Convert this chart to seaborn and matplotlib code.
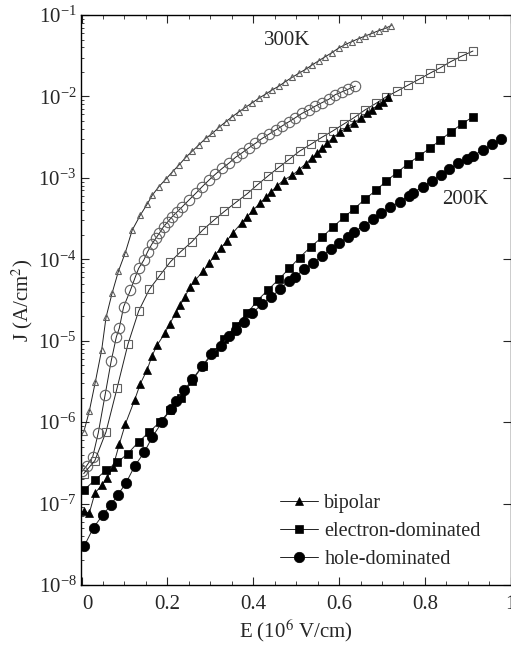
import matplotlib
matplotlib.use("Agg")
import matplotlib.pyplot as plt
import matplotlib.transforms as mtransforms
from matplotlib.ticker import MultipleLocator, LogLocator, NullFormatter
import seaborn as sns

sns.set_theme(style="ticks")
plt.rcParams.update({
    "font.family": ["Liberation Serif", "DejaVu Serif"],
    "mathtext.fontset": "stix",
    "font.size": 13,
    "axes.linewidth": 1.0,
    "xtick.direction": "in",
    "ytick.direction": "in",
    "xtick.top": True,
    "ytick.right": True,
})

# 300K bipolar (open triangles)
E_bip_300 = [0.005, 0.018, 0.032, 0.047, 0.057, 0.071, 0.086, 0.102, 0.118, 0.137,
             0.153, 0.165, 0.180, 0.196, 0.212, 0.227, 0.243, 0.258, 0.273, 0.289,
             0.305, 0.320, 0.336, 0.351, 0.367, 0.382, 0.398, 0.413, 0.429, 0.444,
             0.460, 0.475, 0.491, 0.506, 0.522, 0.537, 0.553, 0.568, 0.584, 0.599,
             0.615, 0.630, 0.646, 0.661, 0.677, 0.692, 0.708, 0.722]
J_bip_300 = [7.53e-7, 1.36e-6, 3.10e-6, 7.78e-6, 1.93e-5, 3.81e-5, 7.16e-5, 1.21e-4, 2.28e-4, 3.49e-4,
             4.77e-4, 6.15e-4, 7.78e-4, 9.59e-4, 1.19e-3, 1.44e-3, 1.79e-3, 2.13e-3, 2.53e-3, 3.05e-3,
             3.52e-3, 4.17e-3, 4.88e-3, 5.63e-3, 6.49e-3, 7.35e-3, 8.37e-3, 9.48e-3, 1.07e-2, 1.20e-2,
             1.34e-2, 1.52e-2, 1.72e-2, 1.92e-2, 2.15e-2, 2.43e-2, 2.75e-2, 3.08e-2, 3.46e-2, 3.93e-2,
             4.35e-2, 4.72e-2, 5.14e-2, 5.52e-2, 5.96e-2, 6.41e-2, 6.87e-2, 7.43e-2]

# 300K hole-dominated (open circles)
E_hole_300 = [0.002, 0.012, 0.026, 0.039, 0.055, 0.069, 0.081, 0.088, 0.098, 0.114,
              0.124, 0.133, 0.145, 0.154, 0.164, 0.173, 0.181, 0.191, 0.201, 0.211,
              0.222, 0.234, 0.250, 0.266, 0.281, 0.297, 0.312, 0.328, 0.343, 0.359,
              0.374, 0.390, 0.405, 0.421, 0.436, 0.452, 0.467, 0.483, 0.498, 0.514,
              0.529, 0.545, 0.560, 0.576, 0.591, 0.607, 0.622, 0.638]
J_hole_300 = [2.50e-7, 2.92e-7, 3.75e-7, 7.40e-7, 2.18e-6, 5.61e-6, 1.11e-5, 1.43e-5, 2.61e-5, 4.18e-5,
              5.82e-5, 7.73e-5, 9.77e-5, 1.24e-4, 1.54e-4, 1.81e-4, 2.08e-4, 2.51e-4, 2.89e-4, 3.33e-4,
              3.80e-4, 4.38e-4, 5.33e-4, 6.45e-4, 7.78e-4, 9.40e-4, 1.11e-3, 1.31e-3, 1.51e-3, 1.79e-3,
              2.03e-3, 2.34e-3, 2.65e-3, 3.05e-3, 3.42e-3, 3.86e-3, 4.33e-3, 4.88e-3, 5.47e-3, 6.20e-3,
              6.80e-3, 7.62e-3, 8.37e-3, 9.21e-3, 1.05e-2, 1.14e-2, 1.23e-2, 1.34e-2]

# electron-dominated, 300K (open squares) and 200K (filled squares) share the same fields
E_elec = [0.005, 0.031, 0.057, 0.083, 0.108, 0.133, 0.158, 0.183, 0.207, 0.231,
          0.257, 0.282, 0.308, 0.333, 0.359, 0.386, 0.409, 0.434, 0.460, 0.484,
          0.508, 0.534, 0.560, 0.585, 0.611, 0.636, 0.660, 0.686, 0.710, 0.735,
          0.760, 0.786, 0.811, 0.836, 0.860, 0.886, 0.912]
J_elec_300 = [2.33e-7, 3.37e-7, 7.60e-7, 2.65e-6, 9.02e-6, 2.31e-5, 4.27e-5, 6.40e-5, 9.31e-5, 1.24e-4,
              1.64e-4, 2.28e-4, 3.01e-4, 3.88e-4, 4.97e-4, 6.38e-4, 8.16e-4, 1.05e-3, 1.35e-3, 1.69e-3,
              2.13e-3, 2.58e-3, 3.15e-3, 3.76e-3, 4.58e-3, 5.53e-3, 6.80e-3, 8.22e-3, 9.91e-3, 1.16e-2,
              1.37e-2, 1.62e-2, 1.92e-2, 2.25e-2, 2.67e-2, 3.13e-2, 3.61e-2]
J_elec_200 = [1.46e-7, 1.94e-7, 2.57e-7, 3.20e-7, 4.12e-7, 5.73e-7, 7.60e-7, 1.01e-6, 1.40e-6, 1.97e-6,
              3.19e-6, 4.88e-6, 7.24e-6, 1.05e-5, 1.51e-5, 2.16e-5, 3.09e-5, 4.19e-5, 5.71e-5, 7.73e-5,
              1.05e-4, 1.42e-4, 1.86e-4, 2.47e-4, 3.27e-4, 4.20e-4, 5.46e-4, 7.02e-4, 9.14e-4, 1.16e-3,
              1.48e-3, 1.85e-3, 2.30e-3, 2.91e-3, 3.65e-3, 4.58e-3, 5.63e-3]

# 200K bipolar (filled triangles)
E_bip_200 = [0.005, 0.018, 0.031, 0.047, 0.059, 0.073, 0.088, 0.102, 0.124, 0.137,
             0.153, 0.164, 0.176, 0.194, 0.205, 0.219, 0.230, 0.240, 0.253, 0.265,
             0.284, 0.297, 0.311, 0.324, 0.338, 0.353, 0.373, 0.386, 0.400, 0.415,
             0.429, 0.442, 0.456, 0.471, 0.491, 0.506, 0.522, 0.536, 0.549, 0.560,
             0.572, 0.587, 0.603, 0.619, 0.634, 0.650, 0.665, 0.677, 0.690, 0.702, 0.715]
J_bip_200 = [8.07e-8, 7.62e-8, 1.34e-7, 1.68e-7, 2.05e-7, 2.80e-7, 5.37e-7, 9.45e-7, 1.89e-6, 2.97e-6,
             4.42e-6, 6.47e-6, 8.83e-6, 1.23e-5, 1.60e-5, 2.16e-5, 2.74e-5, 3.40e-5, 4.59e-5, 5.55e-5,
             7.22e-5, 8.91e-5, 1.13e-4, 1.36e-4, 1.67e-4, 2.12e-4, 2.81e-4, 3.32e-4, 4.02e-4, 4.86e-4,
             5.76e-4, 6.74e-4, 7.99e-4, 9.40e-4, 1.08e-3, 1.25e-3, 1.48e-3, 1.74e-3, 2.00e-3, 2.30e-3,
             2.65e-3, 3.13e-3, 3.68e-3, 4.17e-3, 4.75e-3, 5.38e-3, 6.20e-3, 6.80e-3, 7.83e-3, 8.60e-3, 9.75e-3]

# 200K hole-dominated (filled circles)
E_hole_200 = [0.006, 0.028, 0.049, 0.068, 0.084, 0.103, 0.124, 0.146, 0.165, 0.187,
              0.208, 0.219, 0.239, 0.258, 0.281, 0.302, 0.324, 0.343, 0.359, 0.378,
              0.398, 0.421, 0.442, 0.463, 0.483, 0.498, 0.518, 0.540, 0.560, 0.581,
              0.601, 0.622, 0.636, 0.657, 0.678, 0.698, 0.719, 0.741, 0.762, 0.773,
              0.795, 0.816, 0.837, 0.857, 0.878, 0.898, 0.913, 0.935, 0.956, 0.977]
J_hole_200 = [3.00e-8, 5.08e-8, 7.20e-8, 9.55e-8, 1.27e-7, 1.77e-7, 2.90e-7, 4.25e-7, 6.60e-7, 9.90e-7,
              1.47e-6, 1.83e-6, 2.47e-6, 3.34e-6, 4.88e-6, 6.80e-6, 8.70e-6, 1.14e-5, 1.35e-5, 1.71e-5,
              2.20e-5, 2.82e-5, 3.46e-5, 4.30e-5, 5.44e-5, 6.10e-5, 7.50e-5, 9.06e-5, 1.09e-4, 1.33e-4,
              1.58e-4, 1.90e-4, 2.18e-4, 2.58e-4, 3.09e-4, 3.66e-4, 4.34e-4, 5.08e-4, 5.97e-4, 6.56e-4,
              7.78e-4, 9.14e-4, 1.08e-3, 1.27e-3, 1.51e-3, 1.70e-3, 1.87e-3, 2.20e-3, 2.58e-3, 2.97e-3]

LINE = "#222222"
OPEN_EDGE = "#606060"

fig = plt.figure(figsize=(5.11, 6.46), dpi=100)
ax = fig.add_axes([80.7 / 511, 61 / 646, 430 / 511, 570 / 646])

open_series = [
    (E_bip_300, J_bip_300, "^", 4.6),
    (E_hole_300, J_hole_300, "o", 7.5),
    (E_elec, J_elec_300, "s", 6.0),
]
for E, J, m, ms in open_series:
    sns.lineplot(x=E, y=J, ax=ax, sort=False, color=LINE, linewidth=0.7,
                 marker=m, markersize=ms, markerfacecolor="none",
                 markeredgecolor=OPEN_EDGE, markeredgewidth=0.8)

filled_series = [
    (E_bip_200, J_bip_200, "^", 6.0, "bipolar"),
    (E_elec, J_elec_200, "s", 5.5, "electron-dominated"),
    (E_hole_200, J_hole_200, "o", 7.5, "hole-dominated"),
]
for E, J, m, ms, lab in filled_series:
    sns.lineplot(x=E, y=J, ax=ax, sort=False, color=LINE, linewidth=0.7,
                 marker=m, markersize=ms, markerfacecolor="black",
                 markeredgecolor="black", markeredgewidth=0.5, label=lab)

ax.set_yscale("log")
ax.set_xlim(-0.002, 1.0)
ax.set_ylim(1e-8, 1e-1)
ax.xaxis.set_major_locator(MultipleLocator(0.2))
ax.xaxis.set_minor_locator(MultipleLocator(0.05))
ax.set_xticks([0, 0.2, 0.4, 0.6, 0.8, 1.0])
ax.set_xticklabels(["0", "0.2", "0.4", "0.6", "0.8", "1"])
ax.yaxis.set_major_locator(LogLocator(base=10, numticks=10))
ax.yaxis.set_minor_locator(LogLocator(base=10, subs=range(2, 10), numticks=100))
ax.yaxis.set_minor_formatter(NullFormatter())
ax.tick_params(which="major", length=6, width=0.8, labelsize=15)
ax.tick_params(axis="x", which="major", pad=7)
ax.tick_params(axis="y", which="major", pad=3)
ax.tick_params(which="minor", length=3, width=0.6)
ax.tick_params(axis="y", which="minor", right=False, length=2)

# the "0" label sits a little to the right of its tick in the original
zero_lab = ax.get_xticklabels()[0]
zero_lab.set_transform(zero_lab.get_transform() +
                       mtransforms.ScaledTranslation(6 / 100, 0, fig.dpi_scale_trans))

ax.set_xlabel("E (10$^6$ V/cm)", fontsize=15, labelpad=3)
ax.set_ylabel("J (A/cm$^2$)", fontsize=15, labelpad=2)

ax.text(0.48, 0.048, "300K", fontsize=15, ha="center", va="center")
ax.text(0.894, 5.4e-4, "200K", fontsize=15, ha="center", va="center")

handles, labels = ax.get_legend_handles_labels()
ax.legend(handles, labels, loc="upper left", bbox_to_anchor=(0.445, 0.174),
          frameon=False, fontsize=14.5, handlelength=1.9, handletextpad=0.3,
          labelspacing=0.45, borderaxespad=0)

for s in ax.spines.values():
    s.set_color("black")

fig.savefig("out.png", dpi=100)
